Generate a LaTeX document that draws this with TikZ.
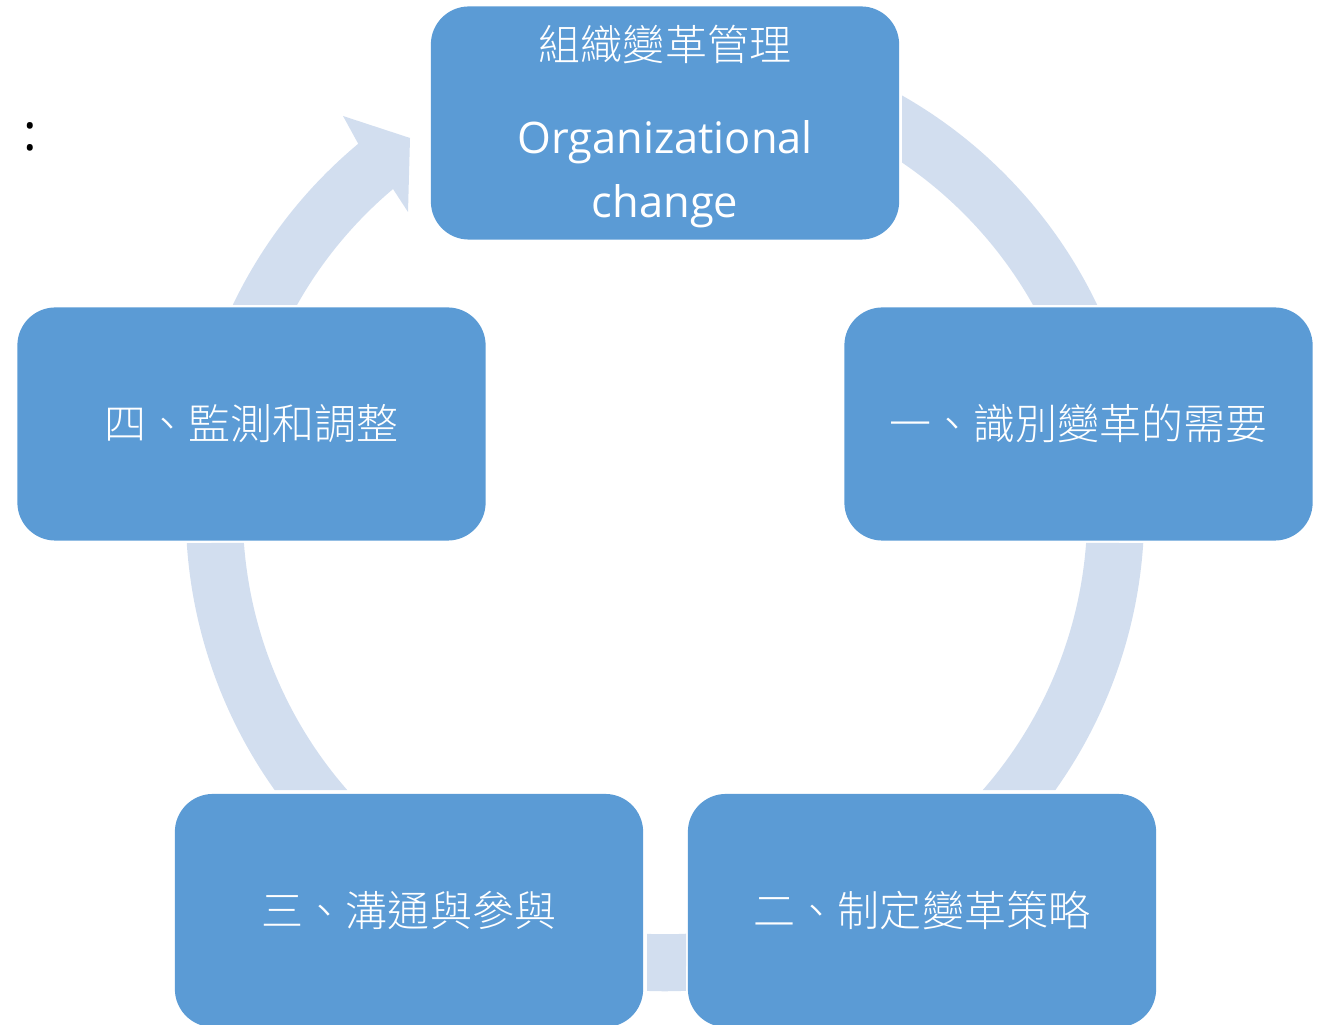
\documentclass[tikz,border=0pt]{standalone}
\usepackage{fontspec}
\setmainfont{Open Sans}
\newfontfamily\cjk{Noto Sans CJK TC Light}
\usetikzlibrary{calc}
\definecolor{boxblue}{HTML}{5B9BD5}
\definecolor{ringblue}{HTML}{D2DEEF}
\begin{document}
\begin{tikzpicture}[x=0.01cm,y=0.01cm,
  stagebox/.style={draw=none, fill=boxblue, rounded corners=0.38cm,
    minimum width=4.68cm, minimum height=2.33cm, inner sep=0pt,
    text=white, font=\cjk\fontsize{11.95pt}{14pt}\selectfont},
  ringseg/.style={fill=ringblue, draw=none},
  lbl/.style={text=white, inner sep=0pt}]
\useasboundingbox (0,0) rectangle (1325,1024);
\clip (0,0) rectangle (1325,1024);
\coordinate (C) at (665,512);

% ring segments
\fill[ringseg] ($(C)+(60.34:4.79cm)$) arc[start angle=60.34,end angle=25.61,radius=4.79cm]
  -- ($(C)+(29.37:4.22cm)$) arc[start angle=29.37,end angle=55.83,radius=4.22cm] -- cycle;
\fill[ringseg] ($(C)+(-3.71:4.79cm)$) arc[start angle=-3.71,end angle=-35.48,radius=4.79cm]
  -- ($(C)+(-41.20:4.22cm)$) arc[start angle=-41.20,end angle=-4.21,radius=4.22cm] -- cycle;
\fill[ringseg] ($(C)+(267.85:4.79cm)$) arc[start angle=267.85,end angle=272.51,radius=4.79cm]
  -- ($(C)+(272.85:4.22cm)$) arc[start angle=272.85,end angle=267.56,radius=4.22cm] -- cycle;
\fill[ringseg] ($(C)+(215.48:4.79cm)$) arc[start angle=215.48,end angle=183.71,radius=4.79cm]
  -- ($(C)+(184.21:4.22cm)$) arc[start angle=184.21,end angle=221.20,radius=4.22cm] -- cycle;
\coordinate (b1) at (343,908);
\coordinate (b2) at (410,886);
\coordinate (b3) at (408,812);
\fill[ringseg] ($(C)+(154.39:4.79cm)$) arc[start angle=154.39,end angle=129.8,radius=4.79cm]
  -- (b1) -- (b2) -- (b3)
  -- ($(C)+(130.1:4.22cm)$) arc[start angle=130.1,end angle=150.63,radius=4.22cm] -- cycle;

% boxes
\node[stagebox] (top) at (665,901) {};
\node[stagebox] (s1) at (1078.5,600) {一、識別變革的需要};
\node[stagebox] (s2) at (922,113.5) {二、制定變革策略};
\node[stagebox] (s3) at (409,113.5) {三、溝通與參與};
\node[stagebox] (s4) at (251.5,600) {四、監測和調整};

% top box text
\node[lbl, font=\cjk\fontsize{11.95pt}{14pt}\selectfont] (t1) at (665,979) {組織變革管理};
\node[lbl, font=\fontsize{12.35pt}{15pt}\selectfont, anchor=base] (t2) at (665,870) {Organizational};
\node[lbl, font=\fontsize{12.35pt}{15pt}\selectfont, anchor=base] (t3) at (665,806) {change};

% colon
\node[inner sep=0pt, font=\fontsize{14.5pt}{16pt}\selectfont] (colon) at (30,887) {:};
\end{tikzpicture}
\end{document}
